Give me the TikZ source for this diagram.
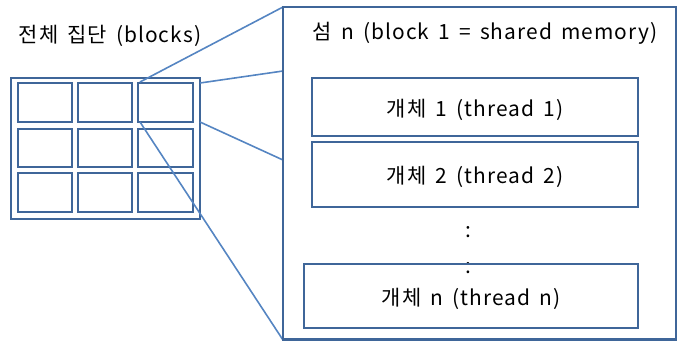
\documentclass[tikz,border=0pt]{standalone}
\usepackage{fontspec}
\setmainfont{Noto Sans CJK KR}[LetterSpace=5,WordSpace=1.6]
\definecolor{frame}{HTML}{3F6699}
\definecolor{link}{HTML}{5585C2}
\tikzset{
  cell/.style={draw=frame,line width=2.4bp},
  outerbox/.style={draw=frame,line width=2.6bp},
  thr/.style={draw=frame,line width=2.4bp},
  linkline/.style={draw=link,line width=1.6bp},
  lbl/.style={font=\fontsize{21}{24}\selectfont,inner sep=0pt,yshift=-2.5bp},
}
\begin{document}
\begin{tikzpicture}[x=1bp,y=-1bp]
\useasboundingbox (0,0) rectangle (682,341);
% grid
\draw[outerbox] (11,78) rectangle (200,219);
\foreach \xa/\xb [count=\i] in {18/72,78/132,138/193}{
  \foreach \ya/\yb [count=\j] in {83/122,129/167,173/212}{
    \draw[cell] (\xa,\ya) rectangle (\xb,\yb);
  }
}
\coordinate (g1) at (140,82);
\coordinate (g2) at (200,83);
\coordinate (g3) at (200,122);
\coordinate (g4) at (140,122);
\coordinate (b1) at (283,7);
\coordinate (b2) at (283,71);
\coordinate (b3) at (283,160);
\coordinate (b4) at (283,340);
\draw[linkline] (g1) -- (b1);
\draw[linkline] (g2) -- (b2);
\draw[linkline] (g3) -- (b3);
\draw[linkline] (g4) -- (b4);
% big box
\draw[outerbox] (283,7) rectangle (676,339.5);
\node[lbl] (title) at (110,33) {전체 집단 (blocks)};
\node[lbl] (blk) at (485,31) {섬 n (block 1 = shared memory)};
\node[thr,minimum width=326bp,minimum height=58bp,inner sep=0pt] (t1) at (475,107) {};
\node[lbl] at (t1.center) {개체 1 (thread 1)};
\node[thr,minimum width=326bp,minimum height=65bp,inner sep=0pt] (t2) at (475,174.5) {};
\node[lbl] at (t2.center) {개체 2 (thread 2)};
\node[lbl] (d1) at (468,230) {:};
\node[lbl] (d2) at (468,266) {:};
\node[thr,minimum width=334bp,minimum height=64bp,inner sep=0pt] (tn) at (471,296) {};
\node[lbl] at (tn.center) {개체 n (thread n)};
\end{tikzpicture}
\end{document}
